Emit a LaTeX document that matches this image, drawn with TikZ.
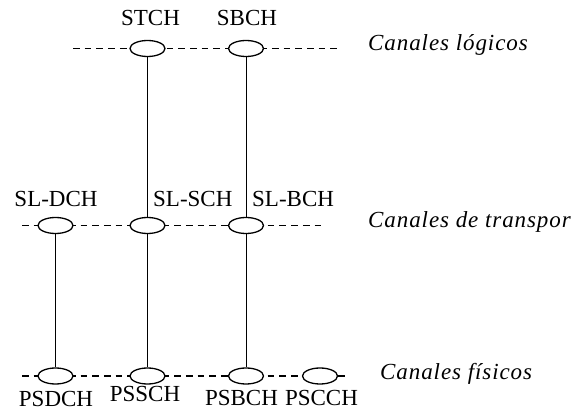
\documentclass[tikz,border=0pt]{standalone}
\usepackage{fontspec}
\setmainfont{Liberation Serif}
\newfontfamily\lsit[LetterSpace=4]{Liberation Serif}
\usetikzlibrary{shapes.geometric}
\tikzset{
  chan/.style={ellipse,draw,fill=white,line width=1.3pt,minimum width=35pt,minimum height=16pt,inner sep=0pt},
  lab/.style={anchor=base,inner sep=0pt,font=\fontsize{23}{27}\selectfont},
  cat/.style={anchor=base west,inner sep=0pt,font=\fontsize{23}{27}\selectfont\lsit\itshape},
  dline/.style={line width=1.4pt,dash pattern=on 6.7pt off 5pt},
  vline/.style={line width=1pt}
}
\begin{document}
\begin{tikzpicture}[x=1pt,y=-1pt]
\useasboundingbox (0,0) rectangle (574,414);
% dashed channel lines
\coordinate (tl) at (73,48.5);
\coordinate (tr) at (341,48.5);
\coordinate (ml) at (22,225.5);
\coordinate (mr) at (323,225.5);
\coordinate (bl) at (22,376);
\coordinate (br) at (347,376);
\draw[dline] (tl) -- (tr);
\draw[dline] (ml) -- (mr);
\draw[dline] (bl) -- (br);
% ellipses
\node[chan] (stch) at (147.5,48.5) {};
\node[chan] (sbch) at (246,48.5) {};
\node[chan] (sldch) at (55.5,225.5) {};
\node[chan] (slsch) at (147.5,225.5) {};
\node[chan] (slbch) at (246,225.5) {};
\node[chan] (psdch) at (55.5,376) {};
\node[chan] (pssch) at (147.5,376) {};
\node[chan] (psbch) at (246,376) {};
\node[chan] (pscch) at (320,376) {};
% vertical connectors
\draw[vline] (stch.south) -- (slsch.north);
\draw[vline] (slsch.south) -- (pssch.north);
\draw[vline] (sbch.south) -- (slbch.north);
\draw[vline] (slbch.south) -- (psbch.north);
\draw[vline] (sldch.south) -- (psdch.north);
% labels
\node[lab] (tstch) at (150.5,25.7) {STCH};
\node[lab] (tsbch) at (247,25.7) {SBCH};
\node[lab] (tsldch) at (56,207) {SL-DCH};
\node[lab,anchor=base west] (tslsch) at (153,206.5) {SL-SCH};
\node[lab,anchor=base west] (tslbch) at (252,206.5) {SL-BCH};
\node[lab] (tpsdch) at (56,407) {PSDCH};
\node[lab] (tpssch) at (145,402) {PSSCH};
\node[lab] (tpsbch) at (241.5,406) {PSBCH};
\node[lab] (tpscch) at (321.5,406) {PSCCH};
% layer names
\node[cat] (clog) at (368,50.7) {Canales lógicos};
\node[cat] (ctra) at (368,228) {Canales de transpor};
\node[cat] (cfis) at (380,380) {Canales físicos};
\end{tikzpicture}
\end{document}
